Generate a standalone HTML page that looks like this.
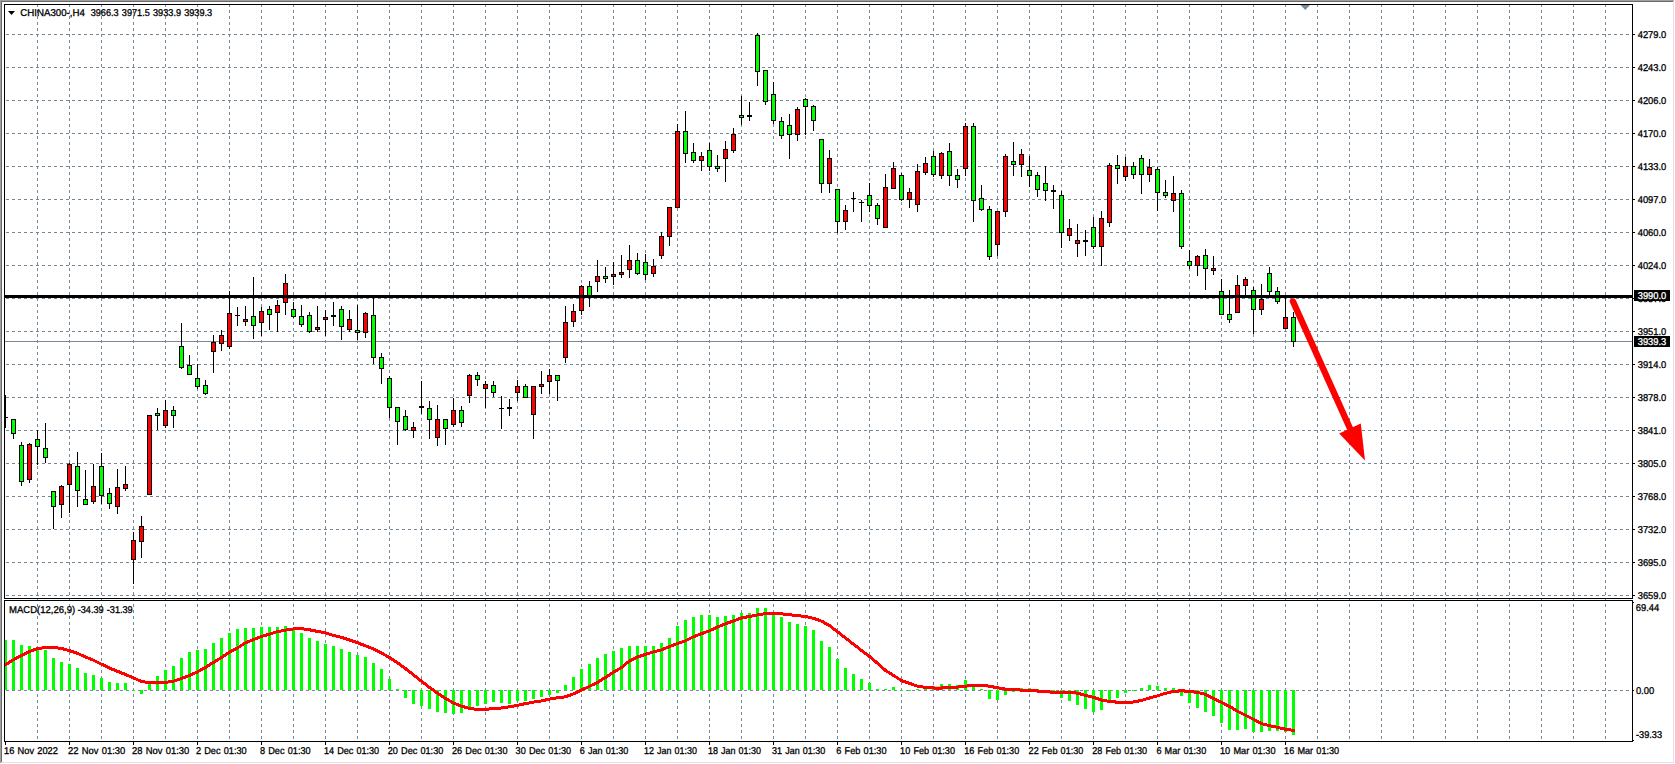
<!DOCTYPE html>
<html lang="en"><head><meta charset="utf-8"><title>CHINA300-,H4</title>
<style>html,body{margin:0;padding:0;background:#fff;overflow:hidden}body{width:1675px;height:764px}svg{display:block}text{font-family:"Liberation Sans", sans-serif;font-size:9.9px;fill:#000;stroke:#000;stroke-width:.3px;text-rendering:geometricPrecision;word-spacing:.7px}.w{fill:#fff;stroke:#fff}</style></head><body>
<svg width="1675" height="764" viewBox="0 0 1675 764">
<rect width="1675" height="764" fill="#fff"/>
<g shape-rendering="crispEdges">
<rect x="0" y="0" width="1674" height="1" fill="#a0a0a0"/><rect x="0" y="0" width="1" height="763" fill="#a0a0a0"/>
<rect x="1" y="1" width="1672" height="1" fill="#696969"/><rect x="1" y="1" width="1" height="761" fill="#696969"/>
<rect x="1" y="762" width="1673" height="1" fill="#e3e3e3"/><rect x="1673" y="1" width="1" height="762" fill="#e3e3e3"/>
</g>
<g stroke="#778899" stroke-width="1" stroke-dasharray="3 3" shape-rendering="crispEdges" fill="none">
<path d="M37.5 4V741"/>
<path d="M69.5 4V741"/>
<path d="M101.5 4V741"/>
<path d="M133.5 4V741"/>
<path d="M165.5 4V741"/>
<path d="M197.5 4V741"/>
<path d="M229.5 4V741"/>
<path d="M261.5 4V741"/>
<path d="M293.5 4V741"/>
<path d="M325.5 4V741"/>
<path d="M357.5 4V741"/>
<path d="M389.5 4V741"/>
<path d="M421.5 4V741"/>
<path d="M453.5 4V741"/>
<path d="M485.5 4V741"/>
<path d="M517.5 4V741"/>
<path d="M549.5 4V741"/>
<path d="M581.5 4V741"/>
<path d="M613.5 4V741"/>
<path d="M645.5 4V741"/>
<path d="M677.5 4V741"/>
<path d="M709.5 4V741"/>
<path d="M741.5 4V741"/>
<path d="M773.5 4V741"/>
<path d="M805.5 4V741"/>
<path d="M837.5 4V741"/>
<path d="M869.5 4V741"/>
<path d="M901.5 4V741"/>
<path d="M933.5 4V741"/>
<path d="M965.5 4V741"/>
<path d="M997.5 4V741"/>
<path d="M1029.5 4V741"/>
<path d="M1061.5 4V741"/>
<path d="M1093.5 4V741"/>
<path d="M1125.5 4V741"/>
<path d="M1157.5 4V741"/>
<path d="M1189.5 4V741"/>
<path d="M1221.5 4V741"/>
<path d="M1253.5 4V741"/>
<path d="M1285.5 4V741"/>
<path d="M1317.5 4V741"/>
<path d="M1349.5 4V741"/>
<path d="M1381.5 4V741"/>
<path d="M1413.5 4V741"/>
<path d="M1445.5 4V741"/>
<path d="M1477.5 4V741"/>
<path d="M1509.5 4V741"/>
<path d="M1541.5 4V741"/>
<path d="M1573.5 4V741"/>
<path d="M1605.5 4V741"/>
<path d="M6 34.5H1632"/>
<path d="M6 67.5H1632"/>
<path d="M6 100.5H1632"/>
<path d="M6 133.5H1632"/>
<path d="M6 166.5H1632"/>
<path d="M6 199.5H1632"/>
<path d="M6 232.5H1632"/>
<path d="M6 265.5H1632"/>
<path d="M6 298.5H1632"/>
<path d="M6 331.5H1632"/>
<path d="M6 364.5H1632"/>
<path d="M6 397.5H1632"/>
<path d="M6 430.5H1632"/>
<path d="M6 463.5H1632"/>
<path d="M6 496.5H1632"/>
<path d="M6 529.5H1632"/>
<path d="M6 562.5H1632"/>
<path d="M6 595.5H1632"/>
<path d="M6 690.5H1632"/>
</g>
<defs><clipPath id="cm"><rect x="5" y="5" width="1627" height="593"/></clipPath><clipPath id="cd"><rect x="5" y="601" width="1627" height="140"/></clipPath></defs>
<rect x="5" y="341" width="1627" height="1" fill="#778899" shape-rendering="crispEdges"/>
<g shape-rendering="crispEdges" clip-path="url(#cm)">
<path fill="#000" d="M5 395v33h1v-33zM13 419v20h1v-20zM21 442v44h1v-44zM29 443v40h1v-40zM37 430v35h1v-35zM45 423v40h1v-40zM53 491v38h1v-38zM61 485v33h1v-33zM69 463v50h1v-50zM77 452v55h1v-55zM85 470v35h1v-35zM93 464v40h1v-40zM101 453v51h1v-51zM109 488v21h1v-21zM117 469v45h1v-45zM125 466v25h1v-25zM133 532v52h1v-52zM141 516v42h1v-42zM149 415v80h1v-80zM157 408v22h1v-22zM165 400v28h1v-28zM173 406v22h1v-22zM181 323v46h1v-46zM189 355v20h1v-20zM197 364v25h1v-25zM205 380v15h1v-15zM213 335v38h1v-38zM221 330v21h1v-21zM229 291v58h1v-58zM237 307v19h1v-19zM245 306v20h1v-20zM253 277v62h1v-62zM261 307v29h1v-29zM269 306v24h1v-24zM277 300v32h1v-32zM285 274v41h1v-41zM293 302v16h1v-16zM301 305v22h1v-22zM309 312v21h1v-21zM317 306v26h1v-26zM325 310v26h1v-26zM333 302v24h1v-24zM341 306v34h1v-34zM349 310v22h1v-22zM357 305v35h1v-35zM365 312v26h1v-26zM373 296v68h1v-68zM381 353v31h1v-31zM389 376v42h1v-42zM397 407v38h1v-38zM405 410v21h1v-21zM413 422v16h1v-16zM421 381v33h1v-33zM429 401v38h1v-38zM437 405v41h1v-41zM445 419v26h1v-26zM453 398v29h1v-29zM461 406v21h1v-21zM469 374v29h1v-29zM477 372v14h1v-14zM485 381v27h1v-27zM493 381v16h1v-16zM501 396v33h1v-33zM509 399v17h1v-17zM517 380v21h1v-21zM525 384v14h1v-14zM533 386v53h1v-53zM541 371v23h1v-23zM549 369v25h1v-25zM557 375v26h1v-26zM565 306v57h1v-57zM573 304v23h1v-23zM581 285v30h1v-30zM589 281v26h1v-26zM597 260v32h1v-32zM605 267v16h1v-16zM613 262v23h1v-23zM621 255v23h1v-23zM629 245v33h1v-33zM637 253v22h1v-22zM645 254v26h1v-26zM653 259v18h1v-18zM661 232v27h1v-27zM669 207v39h1v-39zM677 124v84h1v-84zM685 111v52h1v-52zM693 143v20h1v-20zM701 152v19h1v-19zM709 143v28h1v-28zM717 155v17h1v-17zM725 141v41h1v-41zM733 128v25h1v-25zM741 96v29h1v-29zM749 102v19h1v-19zM757 33v53h1v-53zM765 70v35h1v-35zM773 82v42h1v-42zM781 117v22h1v-22zM789 114v45h1v-45zM797 107v34h1v-34zM805 98v37h1v-37zM813 105v26h1v-26zM821 139v54h1v-54zM829 150v43h1v-43zM837 189v44h1v-44zM845 205v25h1v-25zM853 192v20h1v-20zM861 200v22h1v-22zM869 183v29h1v-29zM877 203v22h1v-22zM885 174v54h1v-54zM893 162v27h1v-27zM901 173v28h1v-28zM909 188v20h1v-20zM917 164v48h1v-48zM925 157v18h1v-18zM933 151v26h1v-26zM941 152v27h1v-27zM949 143v43h1v-43zM957 169v19h1v-19zM965 123v53h1v-53zM973 123v99h1v-99zM981 185v26h1v-26zM989 206v54h1v-54zM997 211v45h1v-45zM1005 154v63h1v-63zM1013 142v34h1v-34zM1021 149v28h1v-28zM1029 156v31h1v-31zM1037 172v25h1v-25zM1045 166v35h1v-35zM1053 185v24h1v-24zM1061 191v57h1v-57zM1069 219v22h1v-22zM1077 224v33h1v-33zM1085 230v26h1v-26zM1093 217v32h1v-32zM1101 211v55h1v-55zM1109 163v64h1v-64zM1117 155v29h1v-29zM1125 157v24h1v-24zM1133 162v17h1v-17zM1141 155v39h1v-39zM1149 159v23h1v-23zM1157 167v44h1v-44zM1165 180v18h1v-18zM1173 176v36h1v-36zM1181 190v59h1v-59zM1189 250v19h1v-19zM1197 255v21h1v-21zM1205 249v41h1v-41zM1213 256v19h1v-19zM1221 279v36h1v-36zM1229 290v33h1v-33zM1237 275v38h1v-38zM1245 277v19h1v-19zM1253 287v47h1v-47zM1261 284v31h1v-31zM1269 267v30h1v-30zM1277 287v17h1v-17zM1285 298v31h1v-31zM1293 312v35h1v-35z"/>
<path fill="#000" d="M3 417h5v1h-5zM11 419h5v15h-5zM19 445h5v37h-5zM27 444h5v36h-5zM35 439h5v8h-5zM43 448h5v10h-5zM51 491h5v16h-5zM59 486h5v19h-5zM67 464h5v21h-5zM75 466h5v25h-5zM83 499h5v6h-5zM91 486h5v16h-5zM99 466h5v30h-5zM107 493h5v11h-5zM115 487h5v20h-5zM123 484h5v5h-5zM131 540h5v20h-5zM139 526h5v16h-5zM147 415h5v80h-5zM155 413h5v3h-5zM163 410h5v16h-5zM171 410h5v6h-5zM179 346h5v22h-5zM187 365h5v10h-5zM195 378h5v9h-5zM203 385h5v9h-5zM211 342h5v10h-5zM219 335h5v9h-5zM227 313h5v34h-5zM235 315h5v1h-5zM243 319h5v3h-5zM251 316h5v10h-5zM259 311h5v12h-5zM267 309h5v6h-5zM275 305h5v8h-5zM283 283h5v20h-5zM291 309h5v8h-5zM299 316h5v9h-5zM307 315h5v17h-5zM315 327h5v3h-5zM323 317h5v3h-5zM331 315h5v2h-5zM339 309h5v18h-5zM347 319h5v11h-5zM355 330h5v3h-5zM363 313h5v20h-5zM371 315h5v43h-5zM379 357h5v12h-5zM387 378h5v30h-5zM395 407h5v15h-5zM403 416h5v14h-5zM411 427h5v4h-5zM419 406h5v2h-5zM427 408h5v12h-5zM435 419h5v19h-5zM443 419h5v10h-5zM451 410h5v15h-5zM459 410h5v13h-5zM467 375h5v21h-5zM475 375h5v5h-5zM483 384h5v5h-5zM491 385h5v8h-5zM499 408h5v1h-5zM507 407h5v2h-5zM515 386h5v7h-5zM523 386h5v12h-5zM531 386h5v29h-5zM539 384h5v3h-5zM547 375h5v7h-5zM555 375h5v6h-5zM563 322h5v36h-5zM571 311h5v11h-5zM579 286h5v25h-5zM587 286h5v11h-5zM595 276h5v6h-5zM603 276h5v3h-5zM611 274h5v3h-5zM619 272h5v3h-5zM627 260h5v10h-5zM635 260h5v14h-5zM643 262h5v13h-5zM651 266h5v8h-5zM659 236h5v20h-5zM667 207h5v30h-5zM675 131h5v77h-5zM683 131h5v23h-5zM691 152h5v9h-5zM699 156h5v5h-5zM707 150h5v17h-5zM715 166h5v3h-5zM723 149h5v10h-5zM731 134h5v17h-5zM739 115h5v3h-5zM747 115h5v2h-5zM755 35h5v37h-5zM763 70h5v32h-5zM771 94h5v27h-5zM779 121h5v15h-5zM787 125h5v10h-5zM795 109h5v26h-5zM803 99h5v8h-5zM811 106h5v15h-5zM819 139h5v45h-5zM827 158h5v26h-5zM835 189h5v33h-5zM843 210h5v12h-5zM851 198h5v1h-5zM859 202h5v1h-5zM867 195h5v11h-5zM875 205h5v14h-5zM883 187h5v41h-5zM891 168h5v21h-5zM899 175h5v25h-5zM907 192h5v8h-5zM915 171h5v34h-5zM923 163h5v10h-5zM931 156h5v19h-5zM939 153h5v23h-5zM947 151h5v25h-5zM955 175h5v5h-5zM963 126h5v43h-5zM971 126h5v75h-5zM979 198h5v12h-5zM987 209h5v48h-5zM995 211h5v34h-5zM1003 156h5v56h-5zM1011 161h5v4h-5zM1019 154h5v11h-5zM1027 170h5v6h-5zM1035 175h5v15h-5zM1043 183h5v8h-5zM1051 190h5v2h-5zM1059 195h5v38h-5zM1067 228h5v8h-5zM1075 240h5v4h-5zM1083 240h5v2h-5zM1091 227h5v20h-5zM1099 218h5v29h-5zM1107 165h5v58h-5zM1115 165h5v4h-5zM1123 166h5v11h-5zM1131 166h5v9h-5zM1139 158h5v17h-5zM1147 167h5v8h-5zM1155 169h5v24h-5zM1163 192h5v4h-5zM1171 193h5v8h-5zM1179 193h5v54h-5zM1187 261h5v5h-5zM1195 256h5v10h-5zM1203 255h5v14h-5zM1211 268h5v3h-5zM1219 291h5v24h-5zM1227 314h5v6h-5zM1235 285h5v28h-5zM1243 279h5v7h-5zM1251 290h5v20h-5zM1259 299h5v11h-5zM1267 273h5v19h-5zM1275 291h5v11h-5zM1283 317h5v12h-5zM1291 317h5v25h-5z"/>
<path fill="#00ff00" d="M12 420h3v13h-3zM20 446h3v35h-3zM36 440h3v6h-3zM44 449h3v8h-3zM52 492h3v14h-3zM76 467h3v23h-3zM84 500h3v4h-3zM100 467h3v28h-3zM108 494h3v9h-3zM156 414h3v1h-3zM172 411h3v4h-3zM180 347h3v20h-3zM188 366h3v8h-3zM196 379h3v7h-3zM204 386h3v7h-3zM252 317h3v8h-3zM268 310h3v4h-3zM292 310h3v6h-3zM300 317h3v7h-3zM308 316h3v15h-3zM340 310h3v16h-3zM356 331h3v1h-3zM372 316h3v41h-3zM380 358h3v10h-3zM388 379h3v28h-3zM396 408h3v13h-3zM404 417h3v12h-3zM428 409h3v10h-3zM444 420h3v8h-3zM460 411h3v11h-3zM476 376h3v3h-3zM492 386h3v6h-3zM524 387h3v10h-3zM556 376h3v4h-3zM588 287h3v9h-3zM604 277h3v1h-3zM636 261h3v12h-3zM644 263h3v11h-3zM684 132h3v21h-3zM692 153h3v7h-3zM708 151h3v15h-3zM716 167h3v1h-3zM740 116h3v1h-3zM756 36h3v35h-3zM764 71h3v30h-3zM772 95h3v25h-3zM780 122h3v13h-3zM788 126h3v8h-3zM804 100h3v6h-3zM812 107h3v13h-3zM820 140h3v43h-3zM836 190h3v31h-3zM868 196h3v9h-3zM876 206h3v12h-3zM900 176h3v23h-3zM932 157h3v17h-3zM948 152h3v23h-3zM956 176h3v3h-3zM972 127h3v73h-3zM980 199h3v10h-3zM988 210h3v46h-3zM1012 162h3v2h-3zM1028 171h3v4h-3zM1036 176h3v13h-3zM1044 184h3v6h-3zM1060 196h3v36h-3zM1092 228h3v18h-3zM1116 166h3v2h-3zM1132 167h3v7h-3zM1140 159h3v15h-3zM1156 170h3v22h-3zM1164 193h3v2h-3zM1180 194h3v52h-3zM1188 262h3v3h-3zM1204 256h3v12h-3zM1220 292h3v22h-3zM1228 315h3v4h-3zM1252 291h3v18h-3zM1268 274h3v17h-3zM1276 292h3v9h-3zM1292 318h3v23h-3z"/>
<path fill="#ff0000" d="M28 445h3v34h-3zM60 487h3v17h-3zM68 465h3v19h-3zM92 487h3v14h-3zM116 488h3v18h-3zM124 485h3v3h-3zM132 541h3v18h-3zM140 527h3v14h-3zM148 416h3v78h-3zM164 411h3v14h-3zM212 343h3v8h-3zM220 336h3v7h-3zM228 314h3v32h-3zM244 320h3v1h-3zM260 312h3v10h-3zM276 306h3v6h-3zM284 284h3v18h-3zM316 328h3v1h-3zM324 318h3v1h-3zM348 320h3v9h-3zM364 314h3v18h-3zM412 428h3v2h-3zM436 420h3v17h-3zM452 411h3v13h-3zM468 376h3v19h-3zM484 385h3v3h-3zM516 387h3v5h-3zM532 387h3v27h-3zM540 385h3v1h-3zM548 376h3v5h-3zM564 323h3v34h-3zM572 312h3v9h-3zM580 287h3v23h-3zM596 277h3v4h-3zM612 275h3v1h-3zM620 273h3v1h-3zM628 261h3v8h-3zM652 267h3v6h-3zM660 237h3v18h-3zM668 208h3v28h-3zM676 132h3v75h-3zM700 157h3v3h-3zM724 150h3v8h-3zM732 135h3v15h-3zM796 110h3v24h-3zM828 159h3v24h-3zM844 211h3v10h-3zM884 188h3v39h-3zM892 169h3v19h-3zM908 193h3v6h-3zM916 172h3v32h-3zM924 164h3v8h-3zM940 154h3v21h-3zM964 127h3v41h-3zM996 212h3v32h-3zM1004 157h3v54h-3zM1020 155h3v9h-3zM1068 229h3v6h-3zM1076 241h3v2h-3zM1100 219h3v27h-3zM1108 166h3v56h-3zM1124 167h3v9h-3zM1148 168h3v6h-3zM1172 194h3v6h-3zM1196 257h3v8h-3zM1212 269h3v1h-3zM1236 286h3v26h-3zM1244 280h3v5h-3zM1260 300h3v9h-3zM1284 318h3v10h-3z"/>
</g>
<g clip-path="url(#cd)">
<path fill="#00ff00" shape-rendering="crispEdges" d="M4 640h3v50h-3zM12 640h3v50h-3zM20 645h3v45h-3zM28 646h3v44h-3zM36 648h3v42h-3zM44 650h3v40h-3zM52 658h3v32h-3zM60 662h3v28h-3zM68 664h3v26h-3zM76 668h3v22h-3zM84 673h3v17h-3zM92 675h3v15h-3zM100 678h3v12h-3zM108 682h3v8h-3zM116 683h3v7h-3zM124 683h3v7h-3zM132 690h3v1h-3zM140 690h3v4h-3zM148 682h3v8h-3zM156 676h3v14h-3zM164 670h3v20h-3zM172 666h3v24h-3zM180 658h3v32h-3zM188 652h3v38h-3zM196 650h3v40h-3zM204 649h3v41h-3zM212 643h3v47h-3zM220 638h3v52h-3zM228 633h3v57h-3zM236 629h3v61h-3zM244 628h3v62h-3zM252 628h3v62h-3zM260 627h3v63h-3zM268 627h3v63h-3zM276 627h3v63h-3zM284 626h3v64h-3zM292 628h3v62h-3zM300 633h3v57h-3zM308 638h3v52h-3zM316 641h3v49h-3zM324 644h3v46h-3zM332 646h3v44h-3zM340 649h3v41h-3zM348 652h3v38h-3zM356 655h3v35h-3zM364 657h3v33h-3zM372 663h3v27h-3zM380 669h3v21h-3zM388 679h3v11h-3zM396 689h3v1h-3zM404 690h3v8h-3zM412 690h3v14h-3zM420 690h3v16h-3zM428 690h3v19h-3zM436 690h3v22h-3zM444 690h3v23h-3zM452 690h3v24h-3zM460 690h3v23h-3zM468 690h3v18h-3zM476 690h3v16h-3zM484 690h3v14h-3zM492 690h3v12h-3zM500 690h3v13h-3zM508 690h3v14h-3zM516 690h3v11h-3zM524 690h3v11h-3zM532 690h3v9h-3zM540 690h3v7h-3zM548 690h3v5h-3zM556 690h3v3h-3zM564 685h3v5h-3zM572 677h3v13h-3zM580 669h3v21h-3zM588 664h3v26h-3zM596 658h3v32h-3zM604 654h3v36h-3zM612 651h3v39h-3zM620 648h3v42h-3zM628 646h3v44h-3zM636 646h3v44h-3zM644 646h3v44h-3zM652 646h3v44h-3zM660 643h3v47h-3zM668 638h3v52h-3zM676 626h3v64h-3zM684 620h3v70h-3zM692 617h3v73h-3zM700 615h3v75h-3zM708 615h3v75h-3zM716 617h3v73h-3zM724 616h3v74h-3zM732 615h3v75h-3zM740 613h3v77h-3zM748 613h3v77h-3zM756 608h3v82h-3zM764 608h3v82h-3zM772 612h3v78h-3zM780 617h3v73h-3zM788 622h3v68h-3zM796 624h3v66h-3zM804 626h3v64h-3zM812 630h3v60h-3zM820 641h3v49h-3zM828 647h3v43h-3zM836 659h3v31h-3zM844 668h3v22h-3zM852 674h3v16h-3zM860 679h3v11h-3zM868 683h3v7h-3zM876 689h3v1h-3zM884 689h3v1h-3zM892 687h3v3h-3zM900 690h3v1h-3zM908 690h3v1h-3zM916 689h3v1h-3zM924 688h3v2h-3zM932 686h3v4h-3zM940 684h3v6h-3zM948 684h3v6h-3zM956 685h3v5h-3zM964 680h3v10h-3zM972 686h3v4h-3zM980 689h3v1h-3zM988 690h3v9h-3zM996 690h3v10h-3zM1004 690h3v5h-3zM1012 690h3v2h-3zM1020 688h3v2h-3zM1028 688h3v2h-3zM1036 689h3v1h-3zM1044 690h3v1h-3zM1052 690h3v1h-3zM1060 690h3v8h-3zM1068 690h3v11h-3zM1076 690h3v15h-3zM1084 690h3v19h-3zM1092 690h3v22h-3zM1100 690h3v20h-3zM1108 690h3v11h-3zM1116 690h3v8h-3zM1124 690h3v3h-3zM1132 690h3v1h-3zM1140 688h3v2h-3zM1148 685h3v5h-3zM1156 686h3v4h-3zM1164 688h3v2h-3zM1172 688h3v2h-3zM1180 690h3v6h-3zM1188 690h3v13h-3zM1196 690h3v18h-3zM1204 690h3v22h-3zM1212 690h3v26h-3zM1220 690h3v33h-3zM1228 690h3v40h-3zM1236 690h3v40h-3zM1244 690h3v39h-3zM1252 690h3v42h-3zM1260 690h3v42h-3zM1268 690h3v41h-3zM1276 690h3v41h-3zM1284 690h3v42h-3zM1292 690h3v45h-3z"/>
<polyline fill="none" stroke="#ff0000" stroke-width="2.4" stroke-linejoin="round" points="5.5,664.7 13.5,659.7 21.5,655.6 29.5,651.6 37.5,648.6 45.5,647.5 53.5,647.5 61.5,648.4 69.5,650.7 77.5,653.4 85.5,657.0 93.5,660.2 101.5,664.2 109.5,668.1 117.5,671.3 125.5,674.5 133.5,677.9 141.5,681.5 149.5,682.6 157.5,683.0 165.5,682.4 173.5,681.2 181.5,678.5 189.5,675.4 197.5,671.9 205.5,667.4 213.5,662.4 221.5,657.5 229.5,652.2 237.5,648.0 245.5,642.7 253.5,639.6 261.5,636.4 269.5,634.2 277.5,631.6 285.5,630.1 293.5,628.9 301.5,628.7 309.5,629.8 317.5,631.4 325.5,632.8 333.5,635.5 341.5,637.3 349.5,640.0 357.5,642.7 365.5,645.9 373.5,648.9 381.5,653.0 389.5,657.5 397.5,662.7 405.5,668.6 413.5,674.9 421.5,681.2 429.5,687.4 437.5,693.3 445.5,698.5 453.5,703.0 461.5,706.2 469.5,708.4 477.5,709.5 485.5,709.3 493.5,708.6 501.5,708.0 509.5,706.8 517.5,705.3 525.5,703.6 533.5,702.1 541.5,700.9 549.5,699.1 557.5,697.8 565.5,696.8 573.5,693.8 581.5,690.1 589.5,686.3 597.5,682.4 605.5,677.4 613.5,672.2 621.5,667.5 629.5,660.9 637.5,657.0 645.5,654.3 653.5,651.9 661.5,649.8 669.5,646.6 677.5,643.5 685.5,640.8 693.5,636.7 701.5,633.7 709.5,630.8 717.5,626.9 725.5,623.8 733.5,621.0 741.5,617.9 749.5,616.5 757.5,614.9 765.5,613.6 773.5,613.6 781.5,613.8 789.5,614.7 797.5,615.6 805.5,616.5 813.5,618.3 821.5,621.1 829.5,625.6 837.5,631.7 845.5,638.0 853.5,644.2 861.5,650.4 869.5,656.4 877.5,663.3 885.5,670.4 893.5,675.4 901.5,680.6 909.5,683.3 917.5,686.2 925.5,687.4 933.5,688.0 941.5,688.0 949.5,687.4 957.5,687.1 965.5,686.2 973.5,685.3 981.5,685.3 989.5,686.2 997.5,687.8 1005.5,689.2 1013.5,689.6 1021.5,690.1 1029.5,690.3 1037.5,691.0 1045.5,691.9 1053.5,692.1 1061.5,692.3 1069.5,692.3 1077.5,693.2 1085.5,695.5 1093.5,697.3 1101.5,700.0 1109.5,701.4 1117.5,702.2 1125.5,702.3 1133.5,702.0 1141.5,700.4 1149.5,698.0 1157.5,695.8 1165.5,693.3 1173.5,691.5 1181.5,690.7 1189.5,691.5 1197.5,692.4 1205.5,694.4 1213.5,698.4 1221.5,702.3 1229.5,706.4 1237.5,711.3 1245.5,715.3 1253.5,719.3 1261.5,723.7 1269.5,725.6 1277.5,727.4 1285.5,729.2 1293.5,730.4"/>
<polyline fill="none" stroke="#ff0000" stroke-width="3" stroke-linejoin="round" stroke-linecap="square" shape-rendering="crispEdges" points="5.5,664.7 13.5,659.7 21.5,655.6 29.5,651.6 37.5,648.6 45.5,647.5 53.5,647.5 61.5,648.4 69.5,650.7 77.5,653.4 85.5,657.0 93.5,660.2 101.5,664.2 109.5,668.1 117.5,671.3 125.5,674.5 133.5,677.9 141.5,681.5 149.5,682.6 157.5,683.0 165.5,682.4 173.5,681.2 181.5,678.5 189.5,675.4 197.5,671.9 205.5,667.4 213.5,662.4 221.5,657.5 229.5,652.2 237.5,648.0 245.5,642.7 253.5,639.6 261.5,636.4 269.5,634.2 277.5,631.6 285.5,630.1 293.5,628.9 301.5,628.7 309.5,629.8 317.5,631.4 325.5,632.8 333.5,635.5 341.5,637.3 349.5,640.0 357.5,642.7 365.5,645.9 373.5,648.9 381.5,653.0 389.5,657.5 397.5,662.7 405.5,668.6 413.5,674.9 421.5,681.2 429.5,687.4 437.5,693.3 445.5,698.5 453.5,703.0 461.5,706.2 469.5,708.4 477.5,709.5 485.5,709.3 493.5,708.6 501.5,708.0 509.5,706.8 517.5,705.3 525.5,703.6 533.5,702.1 541.5,700.9 549.5,699.1 557.5,697.8 565.5,696.8 573.5,693.8 581.5,690.1 589.5,686.3 597.5,682.4 605.5,677.4 613.5,672.2 621.5,667.5 629.5,660.9 637.5,657.0 645.5,654.3 653.5,651.9 661.5,649.8 669.5,646.6 677.5,643.5 685.5,640.8 693.5,636.7 701.5,633.7 709.5,630.8 717.5,626.9 725.5,623.8 733.5,621.0 741.5,617.9 749.5,616.5 757.5,614.9 765.5,613.6 773.5,613.6 781.5,613.8 789.5,614.7 797.5,615.6 805.5,616.5 813.5,618.3 821.5,621.1 829.5,625.6 837.5,631.7 845.5,638.0 853.5,644.2 861.5,650.4 869.5,656.4 877.5,663.3 885.5,670.4 893.5,675.4 901.5,680.6 909.5,683.3 917.5,686.2 925.5,687.4 933.5,688.0 941.5,688.0 949.5,687.4 957.5,687.1 965.5,686.2 973.5,685.3 981.5,685.3 989.5,686.2 997.5,687.8 1005.5,689.2 1013.5,689.6 1021.5,690.1 1029.5,690.3 1037.5,691.0 1045.5,691.9 1053.5,692.1 1061.5,692.3 1069.5,692.3 1077.5,693.2 1085.5,695.5 1093.5,697.3 1101.5,700.0 1109.5,701.4 1117.5,702.2 1125.5,702.3 1133.5,702.0 1141.5,700.4 1149.5,698.0 1157.5,695.8 1165.5,693.3 1173.5,691.5 1181.5,690.7 1189.5,691.5 1197.5,692.4 1205.5,694.4 1213.5,698.4 1221.5,702.3 1229.5,706.4 1237.5,711.3 1245.5,715.3 1253.5,719.3 1261.5,723.7 1269.5,725.6 1277.5,727.4 1285.5,729.2 1293.5,730.4"/>
</g>
<g fill="#000" shape-rendering="crispEdges">
<rect x="4" y="4" width="1629" height="1"/>
<rect x="4" y="4" width="1" height="595"/>
<rect x="1632" y="4" width="1" height="595"/>
<rect x="4" y="598" width="1629" height="1"/>
<rect x="4" y="600" width="1629" height="1"/>
<rect x="4" y="600" width="1" height="142"/>
<rect x="1632" y="600" width="1" height="142"/>
<rect x="4" y="741" width="1629" height="1"/>
<rect x="1633" y="34" width="2" height="1"/>
<rect x="1633" y="67" width="2" height="1"/>
<rect x="1633" y="100" width="2" height="1"/>
<rect x="1633" y="133" width="2" height="1"/>
<rect x="1633" y="166" width="2" height="1"/>
<rect x="1633" y="199" width="2" height="1"/>
<rect x="1633" y="232" width="2" height="1"/>
<rect x="1633" y="265" width="2" height="1"/>
<rect x="1633" y="298" width="2" height="1"/>
<rect x="1633" y="331" width="2" height="1"/>
<rect x="1633" y="364" width="2" height="1"/>
<rect x="1633" y="397" width="2" height="1"/>
<rect x="1633" y="430" width="2" height="1"/>
<rect x="1633" y="463" width="2" height="1"/>
<rect x="1633" y="496" width="2" height="1"/>
<rect x="1633" y="529" width="2" height="1"/>
<rect x="1633" y="562" width="2" height="1"/>
<rect x="1633" y="595" width="2" height="1"/>
<rect x="1633" y="602" width="1" height="1"/>
<rect x="1633" y="690" width="1" height="1"/>
<rect x="1633" y="740" width="1" height="1"/>
<rect x="5" y="742" width="1" height="3"/>
<rect x="69" y="742" width="1" height="3"/>
<rect x="133" y="742" width="1" height="3"/>
<rect x="197" y="742" width="1" height="3"/>
<rect x="261" y="742" width="1" height="3"/>
<rect x="325" y="742" width="1" height="3"/>
<rect x="389" y="742" width="1" height="3"/>
<rect x="453" y="742" width="1" height="3"/>
<rect x="517" y="742" width="1" height="3"/>
<rect x="581" y="742" width="1" height="3"/>
<rect x="645" y="742" width="1" height="3"/>
<rect x="709" y="742" width="1" height="3"/>
<rect x="773" y="742" width="1" height="3"/>
<rect x="837" y="742" width="1" height="3"/>
<rect x="901" y="742" width="1" height="3"/>
<rect x="965" y="742" width="1" height="3"/>
<rect x="1029" y="742" width="1" height="3"/>
<rect x="1093" y="742" width="1" height="3"/>
<rect x="1157" y="742" width="1" height="3"/>
<rect x="1221" y="742" width="1" height="3"/>
<rect x="1285" y="742" width="1" height="3"/>
</g>
<path d="M1300.5 5H1310L1305.25 10Z" fill="#778899"/>
<path d="M8 11H15L11.5 15Z" fill="#000"/>
<text x="1637.7" y="38" textLength="28.6" lengthAdjust="spacingAndGlyphs">4279.0</text>
<text x="1637.7" y="71" textLength="28.6" lengthAdjust="spacingAndGlyphs">4243.0</text>
<text x="1637.7" y="104" textLength="28.6" lengthAdjust="spacingAndGlyphs">4206.0</text>
<text x="1637.7" y="137" textLength="28.6" lengthAdjust="spacingAndGlyphs">4170.0</text>
<text x="1637.7" y="170" textLength="28.6" lengthAdjust="spacingAndGlyphs">4133.0</text>
<text x="1637.7" y="203" textLength="28.6" lengthAdjust="spacingAndGlyphs">4097.0</text>
<text x="1637.7" y="236" textLength="28.6" lengthAdjust="spacingAndGlyphs">4060.0</text>
<text x="1637.7" y="269" textLength="28.6" lengthAdjust="spacingAndGlyphs">4024.0</text>
<text x="1637.7" y="302" textLength="28.6" lengthAdjust="spacingAndGlyphs">3987.0</text>
<text x="1637.7" y="335" textLength="28.6" lengthAdjust="spacingAndGlyphs">3951.0</text>
<text x="1637.7" y="368" textLength="28.6" lengthAdjust="spacingAndGlyphs">3914.0</text>
<text x="1637.7" y="401" textLength="28.6" lengthAdjust="spacingAndGlyphs">3878.0</text>
<text x="1637.7" y="434" textLength="28.6" lengthAdjust="spacingAndGlyphs">3841.0</text>
<text x="1637.7" y="467" textLength="28.6" lengthAdjust="spacingAndGlyphs">3805.0</text>
<text x="1637.7" y="500" textLength="28.6" lengthAdjust="spacingAndGlyphs">3768.0</text>
<text x="1637.7" y="533" textLength="28.6" lengthAdjust="spacingAndGlyphs">3732.0</text>
<text x="1637.7" y="566" textLength="28.6" lengthAdjust="spacingAndGlyphs">3695.0</text>
<text x="1637.7" y="599" textLength="28.6" lengthAdjust="spacingAndGlyphs">3659.0</text>
<text x="1635.7" y="611" textLength="23.5" lengthAdjust="spacingAndGlyphs">69.44</text>
<text x="1635.9" y="694" textLength="18.3" lengthAdjust="spacingAndGlyphs">0.00</text>
<text x="1636" y="738" textLength="26" lengthAdjust="spacingAndGlyphs">-39.33</text>
<text x="20.3" y="16" textLength="64.6"lengthAdjust="spacingAndGlyphs">CHINA300-,H4</text>
<text x="90.7" y="16" textLength="121.5" lengthAdjust="spacingAndGlyphs">3966.3 3971.5 3933.9 3939.3</text>
<text x="9" y="613" textLength="66.2" lengthAdjust="spacingAndGlyphs">MACD(12,26,9)</text>
<text x="77.7" y="613" textLength="55" lengthAdjust="spacingAndGlyphs">-34.39 -31.39</text>
<text x="4" y="754" textLength="53.9" lengthAdjust="spacingAndGlyphs">16 Nov 2022</text>
<text x="68.1" y="754" textLength="57.2" lengthAdjust="spacingAndGlyphs">22 Nov 01:30</text>
<text x="132" y="754" textLength="57.2" lengthAdjust="spacingAndGlyphs">28 Nov 01:30</text>
<text x="195.9" y="754" textLength="50.8" lengthAdjust="spacingAndGlyphs">2 Dec 01:30</text>
<text x="260" y="754" textLength="50.6" lengthAdjust="spacingAndGlyphs">8 Dec 01:30</text>
<text x="323.9" y="754" textLength="55.2" lengthAdjust="spacingAndGlyphs">14 Dec 01:30</text>
<text x="387.8" y="754" textLength="55.5" lengthAdjust="spacingAndGlyphs">20 Dec 01:30</text>
<text x="452" y="754" textLength="55.5" lengthAdjust="spacingAndGlyphs">26 Dec 01:30</text>
<text x="515.6" y="754" textLength="55.6" lengthAdjust="spacingAndGlyphs">30 Dec 01:30</text>
<text x="579.8" y="754" textLength="48.5" lengthAdjust="spacingAndGlyphs">6 Jan 01:30</text>
<text x="644" y="754" textLength="52.9" lengthAdjust="spacingAndGlyphs">12 Jan 01:30</text>
<text x="707.9" y="754" textLength="53.2" lengthAdjust="spacingAndGlyphs">18 Jan 01:30</text>
<text x="772.1" y="754" textLength="53.2" lengthAdjust="spacingAndGlyphs">31 Jan 01:30</text>
<text x="836.3" y="754" textLength="50.2" lengthAdjust="spacingAndGlyphs">6 Feb 01:30</text>
<text x="900.1" y="754" textLength="54.9" lengthAdjust="spacingAndGlyphs">10 Feb 01:30</text>
<text x="964.3" y="754" textLength="54.9" lengthAdjust="spacingAndGlyphs">16 Feb 01:30</text>
<text x="1028.6" y="754" textLength="54.7" lengthAdjust="spacingAndGlyphs">22 Feb 01:30</text>
<text x="1092.3" y="754" textLength="54.7" lengthAdjust="spacingAndGlyphs">28 Feb 01:30</text>
<text x="1156.4" y="754" textLength="49.8" lengthAdjust="spacingAndGlyphs">6 Mar 01:30</text>
<text x="1220" y="754" textLength="55.5" lengthAdjust="spacingAndGlyphs">10 Mar 01:30</text>
<text x="1284.1" y="754" textLength="55.1" lengthAdjust="spacingAndGlyphs">16 Mar 01:30</text>
<rect x="5" y="295" width="1627" height="3" fill="#000" shape-rendering="crispEdges"/>
<rect x="1634" y="290" width="36" height="11" fill="#000" shape-rendering="crispEdges"/>
<text class="w" x="1637.7" y="299" textLength="28.6" lengthAdjust="spacingAndGlyphs">3990.0</text>
<rect x="1634" y="336" width="36" height="11" fill="#000" shape-rendering="crispEdges"/>
<text class="w" x="1637.7" y="345" textLength="28.6" lengthAdjust="spacingAndGlyphs">3939.3</text>
<line x1="1293" y1="301.5" x2="1350" y2="428.5" stroke="#ff0000" stroke-width="6.4" stroke-linecap="round"/>
<path d="M1339.2 433.4L1360.8 423.6L1365 460.5Z" fill="#ff0000"/>
</svg></body></html>
